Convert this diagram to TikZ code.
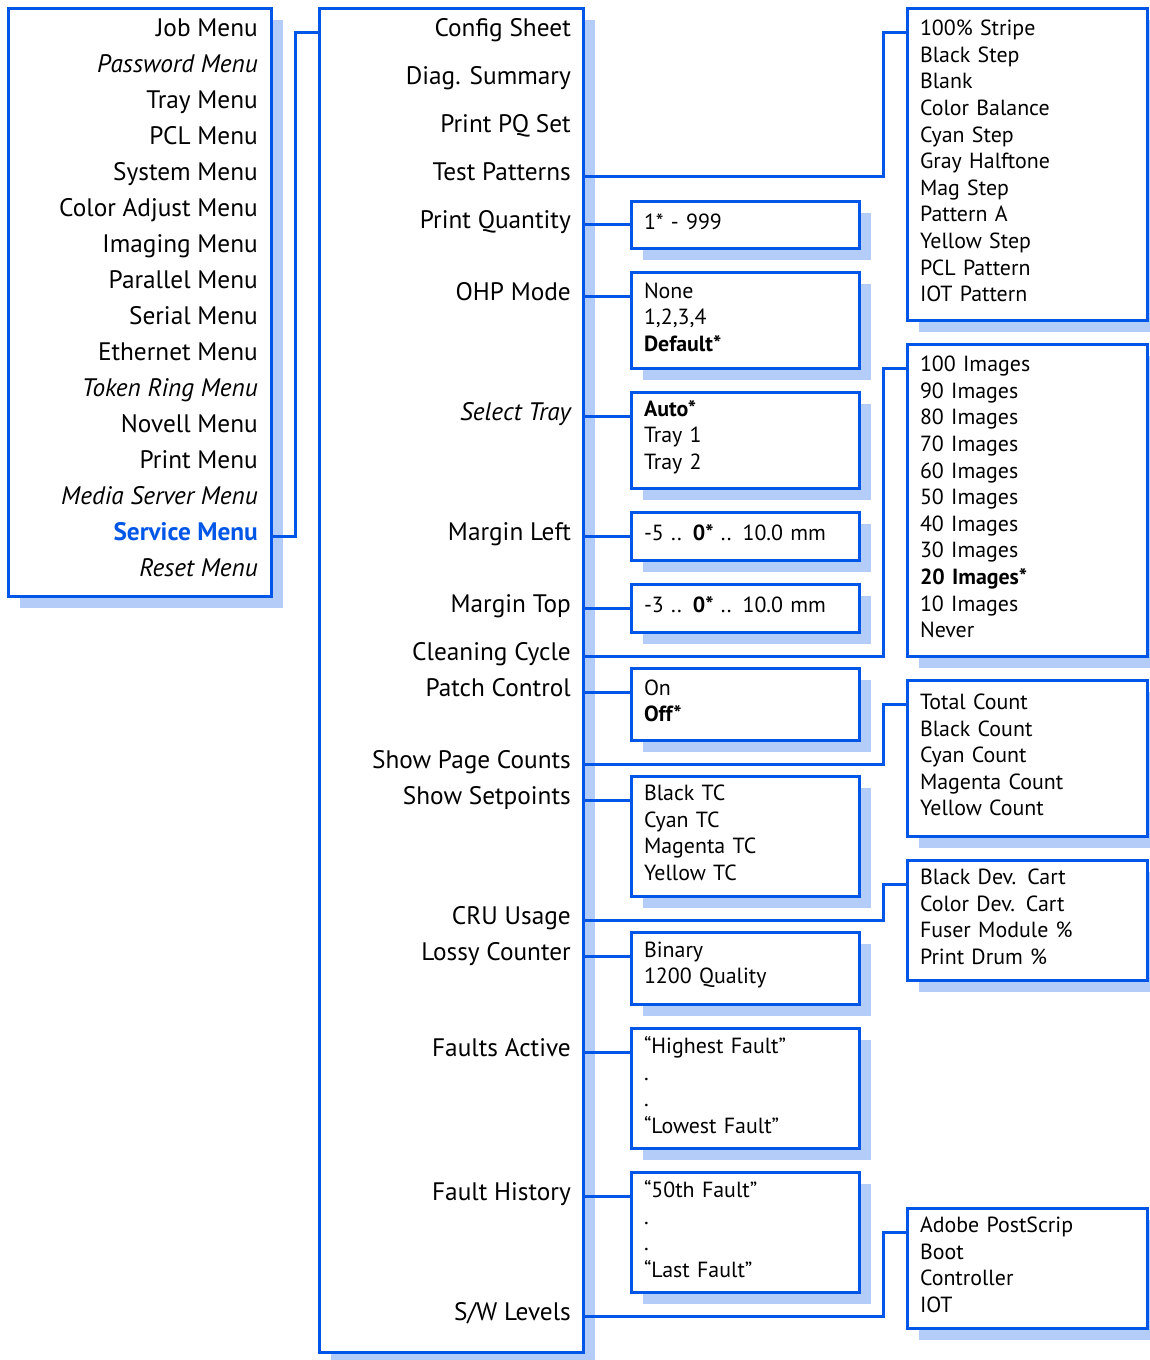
\documentclass[tikz,border=0pt]{standalone}
\usepackage{fontspec}
\setmainfont{PT Sans}
\usetikzlibrary{calc,shadows}
\definecolor{mblue}{RGB}{0,87,231}
\definecolor{sblue}{RGB}{179,205,248}
\newcommand\mybotpad{\par\vspace*{6pt}}
\begin{document}
\begin{tikzpicture}[x=1pt,y=-1pt,
  box/.style={draw=mblue, line width=3pt, fill=white, outer sep=0pt, inner sep=0pt,
    anchor=north west,
    drop shadow={shadow xshift=12pt, shadow yshift=-12pt, fill=sblue, opacity=1}},
  opt/.style={box, minimum width=228pt, text width=202pt, inner xsep=13pt, align=left,
    font=\fontsize{21.9pt}{26.6pt}\selectfont,
    execute at end node=\mybotpad},
  sub/.style={box, minimum width=240pt, text width=214pt, inner xsep=13pt, align=left,
    font=\fontsize{21.9pt}{26.6pt}\selectfont,
    execute at end node=\mybotpad},
  lbl/.style={anchor=east, inner sep=0pt, text height=8pt, text depth=0pt,
    font=\fontsize{25.3pt}{36pt}\selectfont},
  conn/.style={draw=mblue, line width=3pt}]
\useasboundingbox (0,0) rectangle (1150,1360);

% ---------- boxes ----------
\node[box, minimum width=263pt, minimum height=588pt] (menus) at (8,8) {};
\node[box, minimum width=264pt, minimum height=1344pt] (mid) at (319,8) {};

\node[opt, minimum height=47pt] (qtybox) at (631,201) {1* - 999};
\node[opt, minimum height=96pt] (ohpbox) at (631,272) {None\\1,2,3,4\\\textbf{Default*}};
\node[opt, minimum height=96pt] (traybox) at (631,392) {\textbf{Auto*}\\Tray 1\\Tray 2};
\node[opt, minimum height=48pt] (mlbox) at (631,512) {-5 .. \textbf{0*} .. 10.0 mm};
\node[opt, minimum height=48pt] (mtbox) at (631,584) {-3 .. \textbf{0*} .. 10.0 mm};
\node[opt, minimum height=72pt] (patchbox) at (631,668) {On\\\textbf{Off*}};
\node[opt, minimum height=120pt] (setpbox) at (631,776) {Black TC\\Cyan TC\\Magenta TC\\Yellow TC};
\node[opt, minimum height=72pt] (lossybox) at (631,932) {Binary\\1200 Quality};
\node[opt, minimum height=120pt] (fabox) at (631,1028) {“Highest Fault”\\.\\.\\“Lowest Fault”};
\node[opt, minimum height=120pt] (fhbox) at (631,1172) {“50th Fault”\\.\\.\\“Last Fault”};

\node[sub, minimum height=312pt] (tpbox) at (907,8) {100\% Stripe\\Black Step\\Blank\\Color Balance\\Cyan Step\\Gray Halftone\\Mag Step\\Pattern A\\Yellow Step\\PCL Pattern\\IOT Pattern};
\node[sub, minimum height=312pt] (imgbox) at (907,344) {100 Images\\90 Images\\80 Images\\70 Images\\60 Images\\50 Images\\40 Images\\30 Images\\\textbf{20 Images*}\\10 Images\\Never};
\node[sub, minimum width=238pt, minimum height=156pt] (cntbox) at (907,680) {Total Count\\Black Count\\Cyan Count\\Magenta Count\\Yellow Count};
\node[sub, minimum height=120pt] (crubox) at (907,860) {Black Dev. Cart\\Color Dev. Cart\\Fuser Module \%\\Print Drum \%};
\node[sub, minimum height=120pt] (swbox) at (907,1208) {Adobe PostScrip\\Boot\\Controller\\IOT};

% ---------- left menu labels ----------
\node[lbl] (job) at (258,32) {Job Menu};
\node[lbl] (pwd) at (258,68) {\itshape Password Menu};
\node[lbl] (tray) at (258,104) {Tray Menu};
\node[lbl] (pcl) at (258,140) {PCL Menu};
\node[lbl] (sys) at (258,176) {System Menu};
\node[lbl] (cadj) at (258,212) {Color Adjust Menu};
\node[lbl] (img) at (258,248) {Imaging Menu};
\node[lbl] (par) at (258,284) {Parallel Menu};
\node[lbl] (ser) at (258,320) {Serial Menu};
\node[lbl] (eth) at (258,356) {Ethernet Menu};
\node[lbl] (tok) at (258,392) {\itshape Token Ring Menu};
\node[lbl] (nov) at (258,428) {Novell Menu};
\node[lbl] (prt) at (258,464) {Print Menu};
\node[lbl] (med) at (258,500) {\itshape Media Server Menu};
\node[lbl, text=mblue] (svc) at (258,536) {\bfseries Service Menu};
\node[lbl] (rst) at (258,572) {\itshape Reset Menu};

% ---------- service menu labels ----------
\node[lbl] (cfg) at (571,32) {Config Sheet};
\node[lbl] (diag) at (571,80) {Diag. Summary};
\node[lbl] (ppq) at (571,128) {Print PQ Set};
\node[lbl] (tp) at (571,176) {Test Patterns};
\node[lbl] (qty) at (571,224) {Print Quantity};
\node[lbl] (ohp) at (571,296) {OHP Mode};
\node[lbl] (sel) at (571,416) {\itshape Select Tray};
\node[lbl] (ml) at (571,536) {Margin Left};
\node[lbl] (mt) at (571,608) {Margin Top};
\node[lbl] (clean) at (571,656) {Cleaning Cycle};
\node[lbl] (patch) at (571,692) {Patch Control};
\node[lbl] (cnt) at (571,764) {Show Page Counts};
\node[lbl] (setp) at (571,800) {Show Setpoints};
\node[lbl] (cru) at (571,920) {CRU Usage};
\node[lbl] (lossy) at (571,956) {Lossy Counter};
\node[lbl] (fa) at (571,1052) {Faults Active};
\node[lbl] (fh) at (571,1196) {Fault History};
\node[lbl] (sw) at (571,1316) {S/W Levels};

% ---------- connectors ----------
\draw[conn] (svc.east -| menus.east) -- ++(24,0) |- (cfg.east -| mid.west);

\foreach \l/\b in {qty/qtybox, ohp/ohpbox, sel/traybox, ml/mlbox, mt/mtbox,
                   patch/patchbox, setp/setpbox, lossy/lossybox, fa/fabox, fh/fhbox}
  \draw[conn] (\l.east -| mid.east) -- (\l.east -| \b.west);

\foreach \l/\b in {tp/tpbox, clean/imgbox, cnt/cntbox, cru/crubox, sw/swbox}
  \draw[conn] (\l.east -| mid.east) -| ($(\b.north west)+(-24,24)$) -- ($(\b.north west)+(0,24)$);
\end{tikzpicture}
\end{document}
